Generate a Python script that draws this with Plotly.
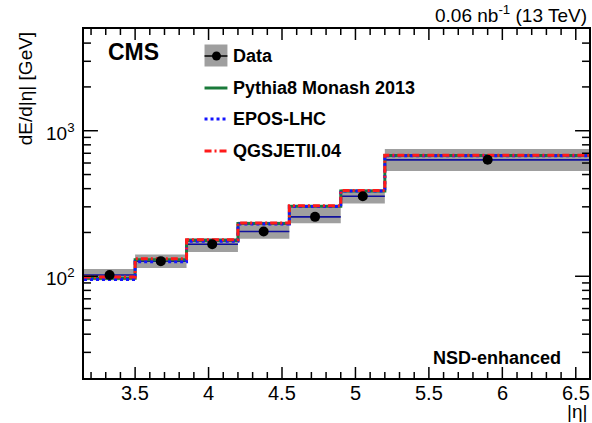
import math
import plotly.graph_objects as go

# |eta| bin edges of the CASTOR acceptance and per-bin energy flow (GeV)
eta_edges = [3.152, 3.5, 3.85, 4.2, 4.55, 4.9, 5.2, 6.6]
data_vals = [102, 127, 166, 203, 256, 355, 631]
data_sys_lo = [94, 114, 147, 181, 231, 316, 528]
data_sys_hi = [112, 141, 183, 237, 308, 394, 750]
pythia8_vals = [97, 130, 176, 230, 303, 386, 675]
epos_vals = [95, 126, 174, 229, 302, 385, 674]
qgsjet_vals = [99, 132, 178, 232, 305, 388, 678]

x_major = [3.5, 4, 4.5, 5, 5.5, 6, 6.5]
x_major_text = ["3.5", "4", "4.5", "5", "5.5", "6", "6.5"]
x_minor = [round(3.2 + 0.1 * i, 1) for i in range(34)]
y_major = [100, 1000]
y_major_text = ["10<sup>2</sup>", "10<sup>3</sup>"]
y_minor = [30, 40, 50, 60, 70, 80, 90, 200, 300, 400, 500, 600, 700, 800, 900,
           2000, 3000, 4000]

W, H = 592, 423
ML, MR, MT, MB = 84, 1, 29, 45
PW, PH = W - ML - MR, H - MT - MB
X_RANGE = [3.152, 6.59]
Y_RANGE = [1.30103, 3.69897]

FONT = "Liberation Sans, Arial, Helvetica, sans-serif"
GRAY = "#9f9f9f"
NAVY = "#10109c"
GREEN = "#1a7a3a"
BLUE = "#1414ff"
RED = "#ff1a1a"
RED_DASH = "7px,3px,2px,3px"


def px(x):
    return (x - ML) / PW


def py(y):
    return (H - MB - y) / PH


fig = go.Figure()

# systematic uncertainty boxes of the data
for lo_e, hi_e, lo, hi in zip(eta_edges[:-1], eta_edges[1:], data_sys_lo, data_sys_hi):
    fig.add_trace(go.Scatter(
        x=[lo_e, hi_e, hi_e, lo_e, lo_e], y=[lo, lo, hi, hi, lo],
        mode="lines", fill="toself", fillcolor=GRAY, line=dict(width=0),
        hoverinfo="skip", showlegend=False))

# horizontal bin-width bars of the data
bx, by = [], []
for lo_e, hi_e, v in zip(eta_edges[:-1], eta_edges[1:], data_vals):
    bx += [lo_e, hi_e, None]
    by += [v, v, None]
fig.add_trace(go.Scatter(x=bx, y=by, mode="lines", line=dict(color=NAVY, width=1.6),
                         hoverinfo="skip", showlegend=False))


def step(vals):
    return eta_edges, list(vals) + [vals[-1]]


for vals, color, dash in [(pythia8_vals, GREEN, "solid"),
                          (epos_vals, BLUE, "dot"),
                          (qgsjet_vals, RED, RED_DASH)]:
    sx, sy = step(vals)
    fig.add_trace(go.Scatter(x=sx, y=sy, mode="lines", line_shape="hv",
                             line=dict(color=color, width=3, dash=dash),
                             hoverinfo="skip", showlegend=False))

centers = [(a + b) / 2 for a, b in zip(eta_edges[:-1], eta_edges[1:])]
fig.add_trace(go.Scatter(x=centers, y=data_vals, mode="markers",
                         marker=dict(color="black", size=10), showlegend=False))

shapes = []
annotations = []

# frame ticks on all four sides, pointing inwards
TICK = dict(color="black", width=1.5)
for xv, ln in [(v, 11) for v in x_major] + [(v, 6) for v in x_minor if v not in x_major]:
    shapes.append(dict(type="line", xref="x", yref="paper", x0=xv, x1=xv,
                       y0=0, y1=ln / PH, line=TICK, layer="above"))
    shapes.append(dict(type="line", xref="x", yref="paper", x0=xv, x1=xv,
                       y0=1, y1=1 - ln / PH, line=TICK, layer="above"))
for yv, ln in [(v, 14) for v in y_major] + [(v, 7) for v in y_minor]:
    shapes.append(dict(type="line", xref="paper", yref="y", x0=0, x1=ln / PW,
                       y0=yv, y1=yv, line=TICK, layer="above"))
    shapes.append(dict(type="line", xref="paper", yref="y", x0=1, x1=1 - ln / PW,
                       y0=yv, y1=yv, line=TICK, layer="above"))

# tick labels (annotation positions on a log axis are given as log10 values)
for xv, t in zip(x_major, x_major_text):
    annotations.append(dict(text=t, xref="x", yref="paper", x=xv, y=py(393),
                            xanchor="center", yanchor="middle", showarrow=False,
                            font=dict(family=FONT, size=20, color="black")))
for yv, t in zip(y_major, y_major_text):
    annotations.append(dict(text=t, xref="paper", yref="y", x=px(77), y=math.log10(yv),
                            yshift=-1, xanchor="right", yanchor="middle", showarrow=False,
                            font=dict(family=FONT, size=19, color="black")))

# hand-drawn legend
kx0, kx1 = px(205), px(228)
shapes.append(dict(type="rect", xref="paper", yref="paper", x0=kx0, x1=kx1,
                   y0=py(66.5), y1=py(44.5), fillcolor=GRAY, line=dict(width=0)))
shapes.append(dict(type="line", xref="paper", yref="paper", x0=kx0, x1=kx1,
                   y0=py(56), y1=py(56), line=dict(color="black", width=1.5)))
shapes.append(dict(type="circle", xref="paper", yref="paper", x0=px(212.5), x1=px(221.5),
                   y0=py(60.5), y1=py(51.5), fillcolor="black", line=dict(width=0)))
for yy, color, dash in [(88, GREEN, "solid"), (119, BLUE, "dot"), (151, RED, RED_DASH)]:
    shapes.append(dict(type="line", xref="paper", yref="paper", x0=kx0, x1=kx1,
                       y0=py(yy), y1=py(yy), line=dict(color=color, width=3, dash=dash)))

for txt, yy in [("Data", 56), ("Pythia8 Monash 2013", 88), ("EPOS-LHC", 119), ("QGSJETII.04", 151)]:
    annotations.append(dict(text="<b>%s</b>" % txt, xref="paper", yref="paper",
                            x=px(232), y=py(yy), xanchor="left", yanchor="middle",
                            showarrow=False, font=dict(family=FONT, size=18, color="black")))

annotations += [
    dict(text="<b>CMS</b>", xref="paper", yref="paper", x=px(106), y=py(52),
         xanchor="left", yanchor="middle", showarrow=False,
         font=dict(family=FONT, size=23, color="black")),
    dict(text="0.06 nb<sup>-1</sup> (13 TeV)", xref="paper", yref="paper",
         x=px(591), y=py(14), xanchor="right", yanchor="middle", showarrow=False,
         font=dict(family=FONT, size=19, color="black")),
    dict(text="<b>NSD-enhanced</b>", xref="paper", yref="paper", x=px(499), y=py(358),
         xanchor="center", yanchor="middle", showarrow=False,
         font=dict(family=FONT, size=18, color="black")),
    dict(text="dE/d|η| [GeV]", xref="paper", yref="paper", x=px(25), y=py(89),
         xanchor="center", yanchor="middle", textangle=-90, showarrow=False,
         font=dict(family=FONT, size=19, color="black")),
    dict(text="|η|", xref="paper", yref="paper", x=px(591), y=py(411),
         xanchor="right", yanchor="middle", showarrow=False,
         font=dict(family=FONT, size=19, color="black")),
]

fig.update_layout(
    width=W, height=H,
    margin=dict(l=ML, r=MR, t=MT, b=MB, pad=0),
    paper_bgcolor="white", plot_bgcolor="white",
    showlegend=False,
    shapes=shapes, annotations=annotations,
    font=dict(family=FONT, color="black"),
    xaxis=dict(range=X_RANGE, showline=True, linecolor="black", linewidth=2,
               mirror=True, showgrid=False, zeroline=False, ticks="",
               showticklabels=False),
    yaxis=dict(type="log", range=Y_RANGE, showline=True, linecolor="black", linewidth=2,
               mirror=True, showgrid=False, zeroline=False, ticks="",
               showticklabels=False),
)

fig.write_html("out.html")
